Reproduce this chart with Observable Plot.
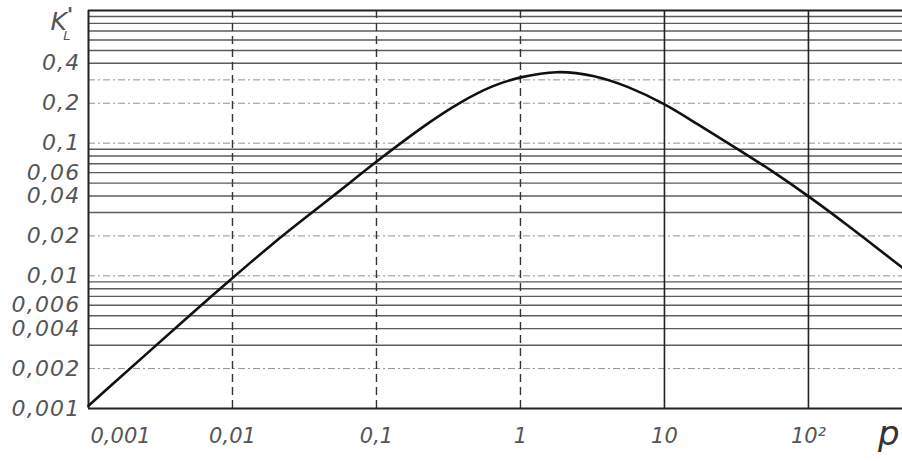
<!DOCTYPE html>
<html><head><meta charset="utf-8">
<script src="https://cdn.jsdelivr.net/npm/d3@7"></script>
<script src="https://cdn.jsdelivr.net/npm/@observablehq/plot@0.6"></script>
<style>
body{margin:0;background:#fff}
svg g.lbly text{letter-spacing:1.2px}
</style>
</head><body><div id="chart"></div>
<script>
// curve K'_L(p)
const pValues = [0.001, 0.00629, 0.00968, 0.0193, 0.0321, 0.0562, 0.0938, 0.226, 0.383, 0.649, 1, 1.78, 3.21, 5.53, 10.2, 16.9, 28.7, 57.1, 103, 167, 450];
const kValues = [0.00105, 0.00624, 0.00933, 0.0178, 0.0275, 0.044, 0.0693, 0.142, 0.205, 0.275, 0.316, 0.354, 0.327, 0.270, 0.197, 0.139, 0.098, 0.061, 0.039, 0.0265, 0.0115];

// tick labels
const xTickValues = [0.01, 0.1, 1, 10, 100];
const xTickLabels = ["0,01", "0,1", "1", "10", "10²"];
const xFirstTick = [0.001];
const xFirstLabel = ["0,001"];
const yTickValues = [0.001, 0.002, 0.004, 0.006, 0.01, 0.02, 0.04, 0.06, 0.1, 0.2, 0.4];
const yTickLabels = ["0,001", "0,002", "0,004", "0,006", "0,01", "0,02", "0,04", "0,06", "0,1", "0,2", "0,4"];
const yTitle = {main: "K", sup: "'", sub: "L"};
const xTitle = "p";

// grid lines
const yGridDark = [0.003, 0.004, 0.005, 0.006, 0.007, 0.008, 0.009, 0.03, 0.04, 0.05, 0.06, 0.07, 0.08, 0.09, 0.4, 0.5, 0.6, 0.7, 0.8, 0.9];
const yGridFaint = [0.002, 0.01, 0.02, 0.1, 0.2, 0.3];
const xGridDashed = [0.01, 0.1, 1];
const xGridSolid = [10, 100];

const curve = pValues.map((p, i) => ({p, k: kValues[i]}));
const yTicks = yTickValues.map((v, i) => ({v, t: yTickLabels[i]}));
const xTicks = xTickValues.map((v, i) => ({v, t: xTickLabels[i]}));
const xFirst = xFirstTick.map((v, i) => ({v, t: xFirstLabel[i]}));
const font = "DejaVu Sans";

const chart = Plot.plot({
  width: 902,
  height: 461,
  marginLeft: 88,
  marginRight: 0,
  marginTop: 10,
  marginBottom: 53,
  style: {fontFamily: font, background: "#fff"},
  x: {type: "log", domain: [0.001, 450], axis: null},
  y: {type: "log", domain: [0.001, 1], axis: null},
  marks: [
    Plot.ruleY(yGridFaint, {stroke: "#777", strokeWidth: 1, strokeDasharray: "7,3,2,3", strokeOpacity: 0.8}),
    Plot.ruleY(yGridDark, {stroke: "#333", strokeWidth: 1.4, strokeOpacity: 0.8}),
    Plot.ruleX(xGridDashed, {stroke: "#333", strokeWidth: 1.4, strokeDasharray: "8,5"}),
    Plot.ruleX(xGridSolid, {stroke: "#222", strokeWidth: 1.6}),
    Plot.ruleX([0.001], {stroke: "#222", strokeWidth: 2}),
    Plot.ruleY([0.001], {stroke: "#222", strokeWidth: 2}),
    Plot.ruleY([1], {stroke: "#222", strokeWidth: 1.8}),
    Plot.line(curve, {x: "p", y: "k", curve: "basis", stroke: "#111", strokeWidth: 2.6}),
    Plot.text(yTicks, {y: "v", text: "t", frameAnchor: "left", textAnchor: "end", dx: -8,
      fontSize: 22, fontStyle: "italic", fill: "#555", className: "lbly"}),
    Plot.text(xTicks, {x: "v", text: "t", frameAnchor: "bottom", lineAnchor: "top", dy: 20,
      fontSize: 21, fontStyle: "italic", fill: "#555"}),
    Plot.text(xFirst, {x: "v", text: "t", frameAnchor: "bottom", lineAnchor: "top", textAnchor: "start", dy: 20, dx: 2,
      fontSize: 21, fontStyle: "italic", fill: "#555"}),
    Plot.text([yTitle.main], {frameAnchor: "top-left", textAnchor: "start", lineAnchor: "top", dx: -38, dy: 2,
      fontSize: 25, fontStyle: "italic", fill: "#555", className: "ktitle"}),
    Plot.text([xTitle], {frameAnchor: "bottom-right", textAnchor: "end", lineAnchor: "top", dx: -3, dy: 12,
      fontSize: 34, fontStyle: "italic", fill: "#333"})
  ]
});
// superscript prime and subscript L on the K title, in the same text element
const kText = d3.select(chart).select("g.ktitle text");
kText.append("tspan").attr("dy", "-0.45em").attr("font-size", 20).attr("font-weight", "bold").text(yTitle.sup);
kText.append("tspan").attr("dx", "-0.75em").attr("dy", "1.45em").attr("font-size", 13).text(yTitle.sub);
document.getElementById("chart").appendChild(chart);
</script>
</body></html>
